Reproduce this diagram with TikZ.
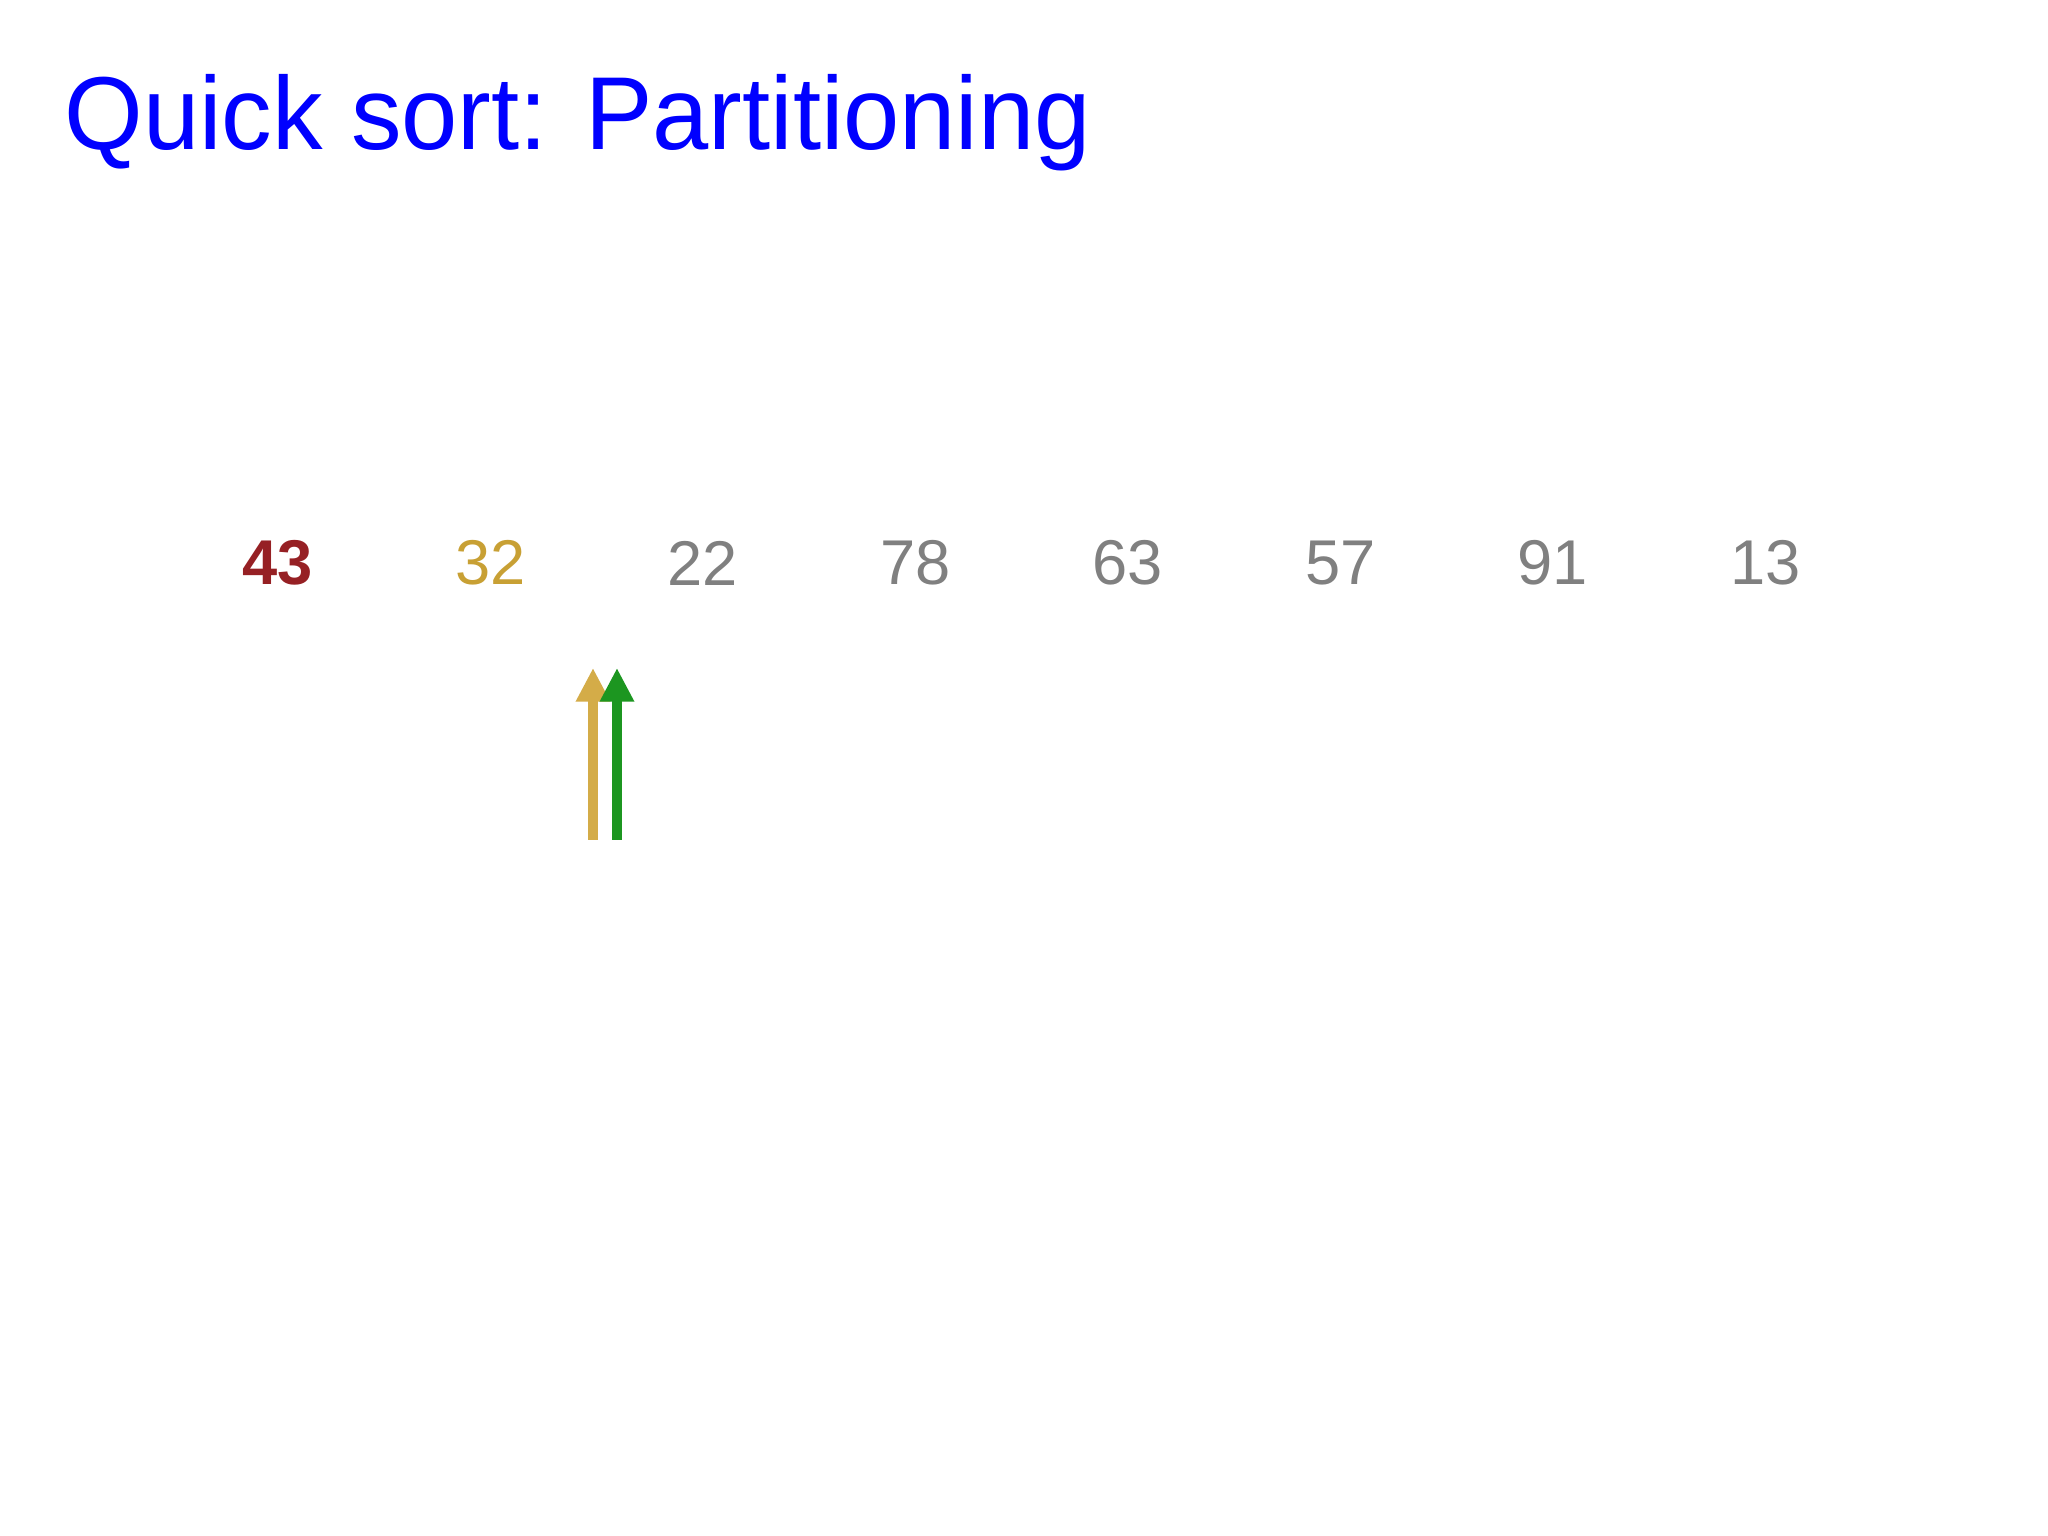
\documentclass[tikz,border=0pt]{standalone}
\usepackage{fontspec}
\setmainfont{Liberation Sans}
\usetikzlibrary{arrows.meta}
\definecolor{titleblue}{RGB}{0,0,255}
\definecolor{pivotred}{RGB}{150,32,36}
\definecolor{gold}{RGB}{200,160,52}
\definecolor{numgray}{RGB}{128,128,128}
\definecolor{arrowgold}{RGB}{212,172,72}
\definecolor{arrowgreen}{RGB}{28,150,32}
\tikzset{
  num/.style={inner sep=0pt, font=\fontsize{18}{20}\selectfont, text=numgray},
  ptr/.style={line width=2.8pt, -{Triangle[width=9.2pt,length=9.6pt]}},
}
\begin{document}
\begin{tikzpicture}
\useasboundingbox[fill=white] (0,0) rectangle (20.48,15.36);
\node[anchor=base west, inner sep=0pt, text=titleblue, font=\fontsize{29.5}{32}\selectfont, xscale=0.975] (title) at (0.64,13.86) {Quick sort: Partitioning};
\node[num, text=pivotred, font=\fontsize{18}{20}\selectfont\bfseries] (n0) at (2.78,9.73) {43};
\node[num, text=gold] (n1) at (4.905,9.73) {32};
\node[num] (n2) at (7.03,9.73) {22};
\node[num] (n3) at (9.155,9.73) {78};
\node[num] (n4) at (11.28,9.73) {63};
\node[num] (n5) at (13.405,9.73) {57};
\node[num] (n6) at (15.53,9.73) {91};
\node[num] (n7) at (17.655,9.73) {13};
\coordinate (ys) at (5.93,6.96);
\coordinate (ye) at (5.93,8.68);
\coordinate (gs) at (6.17,6.96);
\coordinate (ge) at (6.17,8.68);
\draw[ptr, arrowgold] (ys) -- (ye);
\draw[ptr, arrowgreen] (gs) -- (ge);
\end{tikzpicture}
\end{document}
